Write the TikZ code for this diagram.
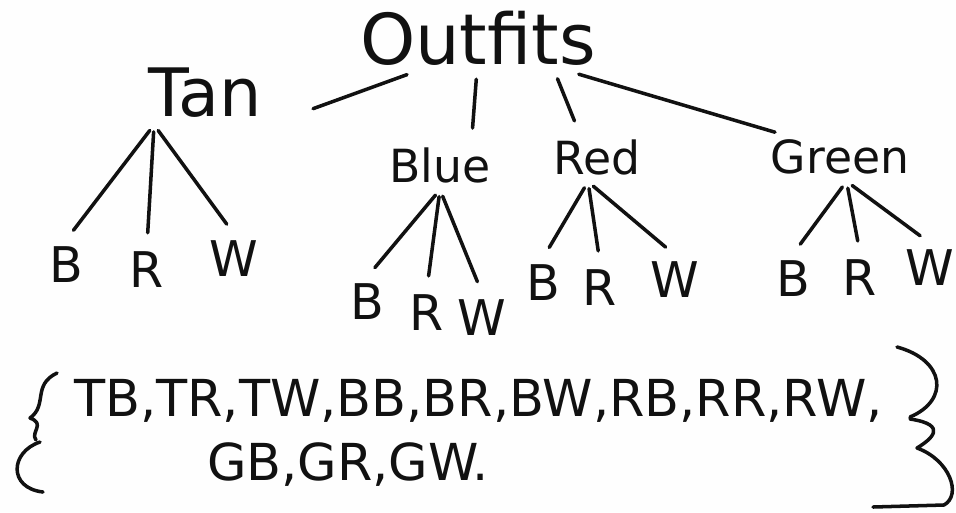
\documentclass[tikz,border=0pt]{standalone}
\usepackage{fontspec}
\setmainfont{DejaVu Sans}
\usetikzlibrary{calc}
\definecolor{PaperWhite}{HTML}{FEFEFE}
\definecolor{Pencil}{HTML}{111111}

\begin{document}
\begin{tikzpicture}[x=0.02cm, y=-0.02cm, line width=2pt, line cap=round, line join=round,
    every node/.style={text=Pencil, inner sep=0pt, outer sep=4pt},
    top/.style={font=\fontsize{40}{40}\selectfont},
    colour/.style={font=\fontsize{26}{26}\selectfont},
    pick/.style={font=\fontsize{28}{28}\selectfont},
    setrow/.style={font=\fontsize{29}{29}\selectfont, anchor=west},
    branch/.style={draw=Pencil, shorten <=4pt, shorten >=7pt},
    ink/.style={draw=Pencil}]
    \fill[PaperWhite] (0,0) rectangle (956,512);
    \useasboundingbox (0,0) rectangle (956,512);
    \node[top] (root) at (478,38) {Outfits};
    \node[font=\fontsize{38}{38}\selectfont] (tan) at (205,93) {Tan};
    \node[colour] (blue) at (440,165) {Blue};
    \node[colour] (red) at (597,157) {Red};
    \node[colour] (green) at (840,157) {Green};
    % second choice
    \node[pick] (tanB) at (66,265) {B};
    \node[pick] (tanR) at (147,270) {R};
    \node[pick] (tanW) at (234,259) {W};
    \node[pick] (blueB) at (367,302) {B};
    \node[pick] (blueR) at (427,313) {R};
    \node[pick] (blueW) at (482,318) {W};
    \node[pick] (redB) at (543,283) {B};
    \node[pick] (redR) at (600,288) {R};
    \node[pick] (redW) at (675,280) {W};
    \node[pick] (greenB) at (793,279) {B};
    \node[pick] (greenR) at (860,278) {R};
    \node[pick] (greenW) at (930,268) {W};
    \draw[branch, shorten >=27pt] (root.208) -- (tan.south east);
    \draw[branch] (root.268) -- (blue.38);
    \draw[branch] (root.-24) -- (red.126);
    \draw[branch, shorten >=1pt] (root.-20) -- (green.159);
    \foreach \c in {B,R,W}{
      \draw[branch] (tan.212) -- (tan\c.north);
      \draw[branch] (blue.south) -- (blue\c.north);
      \draw[branch] (red.250) -- (red\c.north);
      \draw[branch] (green.-75) -- (green\c.north);
    }
    % sample space
    \node[setrow] (row1) at (67,401) {TB,TR,TW,BB,BR,BW,RB,RR,RW,};
    \node[setrow] (row2) at (200,465) {GB,GR,GW.};
    \draw[ink] (57,373) .. controls (32,385) and (48,405) .. (30,418) .. controls (46,424) and (30,432) .. (36,440);
    \draw[ink] (40,442) .. controls (10,452) and (8,488) .. (43,492);
    \draw[ink] (897,347) .. controls (945,360) and (950,400) .. (910,417);
    \draw[ink] (910,419) .. controls (950,425) and (930,440) .. (917,448) .. controls (950,460) and (962,495) .. (944,505);
    \draw[ink] (873,507) -- (944,505);
\end{tikzpicture}
\end{document}
